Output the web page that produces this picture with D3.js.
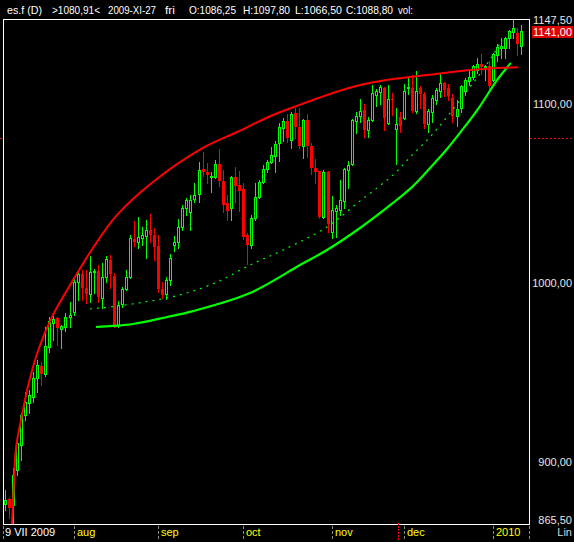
<!DOCTYPE html>
<html>
<head>
<meta charset="utf-8">
<script src="https://cdn.jsdelivr.net/npm/d3@7"></script>
<style>
  html, body { margin: 0; padding: 0; background: #000; overflow: hidden; }
  svg { display: block; }
  text { font-family: "Liberation Sans", Arial, sans-serif; }
</style>
</head>
<body>
<svg id="chart" width="574" height="542"></svg>
<script>
// Daily ES futures candles, 9 Jul 2009 – mid Jan 2010
const opens = [876.5,879.5,876.0,895.6,909.6,926.4,932.9,936.6,946.8,953.7,949.3,964.1,977.5,980.4,974.2,975.3,981.3,984.1,1000.8,1005.1,
  997.1,993.7,1006.2,1006.8,991.9,1003.6,1012.9,1004.0,976.6,988.2,996.7,1003.6,1024.6,1023.2,1025.0,1026.5,1029.7,1026.9,1020.7,996.7,
  993.7,1001.7,1021.5,1022.8,1031.3,1041.8,1039.9,1046.8,1049.6,1063.7,1062.1,1059.4,1059.4,1066.5,1057.2,1044.6,1041.8,1059.1,1054.8,1052.6,
  1026.9,1021.3,1036.2,1048.3,1056.7,1063.5,1067.8,1071.2,1078.1,1086.8,1090.5,1079.9,1095.2,1087.4,1076.8,1090.9,1076.6,1064.1,1062.6,1037.1,
  1062.2,1028.7,1040.5,1040.8,1046.0,1063.2,1066.7,1090.5,1093.5,1096.7,1085.5,1091.1,1105.1,1106.9,1108.8,1089.2,1102.8,1086.25,1092.9,1092.4,
  1108.8,1108.8,1096.1,1108.8,1105.6,1088.9,1095.7,1102.3,1107.3,1111.6,1108.8,1103.2,1093.5,1097.6,1107.5,1112.9,1114.9,1119.0,1122.4,1120.9,
  1121.4,1113.4,1127.4,1131.1,1131.5,1136.7,1140.4,1139.9,1132.6];
const highs = [884.5,880.2,896.5,913.3,927.3,939.4,940.3,950.6,957.1,956.1,975.7,981.3,983.1,981.3,976.6,983.1,989.6,1002.7,1006.4,1007.3,
  1007.3,1015.3,1007.9,1010.1,1011.1,1015.3,1015.7,1005.5,990.0,998.0,1007.3,1026.9,1034.7,1037.1,1031.5,1035.3,1038.4,1030.6,1026.9,1000.8,
  1003.6,1016.1,1026.3,1035.8,1043.6,1047.7,1049.2,1055.7,1067.8,1073.4,1067.3,1062.2,1068.8,1074.9,1063.2,1049.2,1060.0,1064.7,1062.8,1055.7,
  1027.8,1038.0,1055.7,1057.6,1066.0,1068.8,1076.2,1079.4,1089.2,1092.4,1094.3,1095.7,1098.0,1097.6,1091.7,1094.4,1078.1,1069.3,1062.8,1063.2,
  1062.8,1048.6,1043.6,1057.6,1064.1,1068.2,1091.7,1095.7,1102.8,1100.0,1092.9,1110.6,1108.4,1110.6,1109.7,1110.6,1106.0,1097.8,1095.7,1111.0,
  1114.7,1116.2,1118.5,1110.3,1106.9,1097.2,1105.1,1108.8,1117.2,1112.5,1111.2,1105.4,1102.3,1110.6,1114.4,1118.5,1121.8,1125.5,1127.8,1121.8,
  1124.0,1128.3,1133.3,1136.7,1137.6,1141.4,1147.5,1142.7,1144.1];
const lows = [873.3,868.7,865.5,892.9,901.2,923.6,927.3,933.8,939.4,943.1,948.3,961.7,968.2,965.5,963.9,973.3,975.7,982.2,990.6,990.6,
  989.1,989.6,994.3,989.6,985.9,1000.8,997.1,975.7,975.7,986.9,996.2,1002.7,1020.9,1019.4,1021.3,1014.2,1023.2,1012.9,995.2,991.5,
  991.0,999.0,1017.9,1019.4,1029.7,1038.0,1029.7,1045.5,1045.1,1060.0,1055.7,1051.1,1058.5,1054.4,1039.9,1035.3,1035.3,1045.5,1040.5,1024.6,
  1010.5,1019.4,1035.3,1047.3,1055.7,1062.2,1066.9,1062.2,1068.4,1079.4,1079.0,1075.6,1081.2,1075.3,1070.1,1070.6,1060.8,1055.7,1036.6,1036.6,
  1028.7,1025.0,1025.9,1038.0,1041.8,1052.9,1066.0,1083.6,1090.2,1081.8,1081.8,1090.5,1099.1,1100.0,1085.5,1088.7,1093.9,1066.5,1084.2,1091.7,
  1105.4,1095.7,1094.8,1097.6,1086.4,1084.6,1090.2,1099.8,1104.1,1104.5,1102.3,1090.2,1087.9,1095.7,1105.1,1110.6,1114.0,1117.2,1116.6,1113.4,
  1109.2,1113.1,1124.0,1125.5,1125.9,1131.1,1137.1,1127.4,1127.8];
const closes = [878.9,874.2,893.0,910.5,926.4,933.8,937.5,946.8,954.3,949.3,964.9,978.9,980.0,974.8,975.9,980.9,982.2,1000.8,1004.9,997.1,
  994.1,1006.0,1006.8,992.4,1003.6,1013.3,1005.1,976.6,987.8,996.7,1003.6,1025.0,1022.8,1025.6,1026.9,1029.7,1026.9,1020.4,996.7,993.4,
  1001.7,1013.8,1022.8,1031.3,1042.1,1046.4,1046.4,1049.2,1063.2,1062.2,1060.4,1059.8,1066.5,1057.2,1043.6,1040.5,1059.1,1054.4,1051.6,1025.9,
  1021.3,1036.2,1048.3,1056.3,1063.7,1067.8,1071.5,1077.5,1087.4,1090.5,1081.2,1094.4,1087.4,1076.6,1090.9,1076.6,1064.5,1062.2,1037.1,1062.2,
  1032.8,1040.8,1041.8,1046.4,1063.7,1066.0,1091.1,1093.3,1095.9,1085.5,1091.1,1106.4,1107.3,1109.7,1092.0,1102.8,1102.3,1088.8,1087.9,1107.3,
  1109.3,1096.1,1107.3,1105.8,1088.9,1096.3,1103.2,1107.8,1111.9,1107.8,1104.5,1093.5,1097.2,1110.1,1113.2,1115.1,1121.4,1122.4,1120.7,1121.1,
  1110.3,1127.8,1132.0,1132.6,1136.7,1140.8,1142.3,1133.3,1141.0];

// Channel curves as [candle index, price]
const upperCurve = [[1.5,858.0],[1.74,866.1],[2.23,888.9],[2.73,908.0],[4.22,926.4],[5.96,944.8],[8.44,963.8],[11.9,982.2],[16.6,1000.6],
  [21.8,1019.6],[27.8,1038.1],[36.7,1056.5],[49.1,1075.5],[57.6,1084.4],[65.8,1093.2],[71.5,1098.2],[79.9,1105.1],[88.1,1110.6],
  [96.3,1114.0],[104.7,1116.2],[112.9,1118.5],[121.1,1120.0],[127.3,1120.5]];
const lowerCurve = [[22.58,975.5],[26.79,976.1],[31.75,977.2],[40.19,981.1],[46.64,984.4],[60.78,994.5],[73.18,1010.1],[79.88,1018.5],
  [88.07,1030.8],[96.25,1044.8],[101.22,1054.2],[105.43,1064.3],[109.65,1074.9],[113.62,1086.1],[117.84,1098.9],[122.05,1113.4],[125.5,1123.0]];
const midCurve = [[21.09,985.6],[27.78,987.2],[35.97,990.0],[44.16,993.9],[52.59,1000.6],[60.78,1010.1],[68.97,1018.5],[79.88,1031.4],
  [88.07,1045.9],[96.25,1060.4],[101.22,1072.1],[105.43,1081.6],[109.65,1092.8],[113.62,1104.5],[117.09,1114.6],[121.06,1127.4],[123.29,1135.8]];

const firstDateLabel = "9 VII 2009";
const monthLabels = ["aug", "sep", "oct", "nov", "dec", "2010"];
const monthStartIndex = [17, 38, 59, 81, 99, 121];
const priceTicks = [1100, 1000, 900];
const priceDomain = [865.5, 1147.5];
const cursorIndex = 97;
const cursorPrice = 1080.91;
const symbolName = "es.f (D)";
const cursorDate = "2009-XI-27";
const cursorWeekday = "fri";

const svg = d3.select("#chart");
const W = 574, H = 542;
const fmt = v => d3.format(".2f")(v).replace(".", ",");

svg.append("rect").attr("width", W).attr("height", H).attr("fill", "#000");

const x = d3.scaleLinear().domain([0, closes.length - 1]).range([5, 521]);
const y = d3.scaleLinear().domain(priceDomain).range([524, 19]);

svg.append("defs").append("clipPath").attr("id", "plotClip")
  .append("rect").attr("x", 4).attr("y", 20).attr("width", 525).attr("height", 504);

const plot = svg.append("g").attr("clip-path", "url(#plotClip)");

// candles
const candles = d3.range(closes.length).map(i => {
  const o = opens[i], c = closes[i];
  const cx = Math.round(x(i));
  const yt = Math.round(y(Math.max(o, c)));
  const yb = Math.round(y(Math.min(o, c)));
  return { i, cx, up: c >= o, yt, yb, yh: Math.round(y(highs[i])), yl: Math.round(y(lows[i])) };
});
const green = "#00ff00", red = "#ff0000";
const cg = plot.append("g").attr("shape-rendering", "crispEdges");
cg.selectAll("line.wick").data(candles).join("line").attr("class", "wick")
  .attr("x1", d => d.cx + 0.5).attr("x2", d => d.cx + 0.5)
  .attr("y1", d => d.yh).attr("y2", d => d.yl + 1)
  .attr("stroke", d => d.up ? green : red).attr("stroke-width", 1);
cg.selectAll("rect.body").data(candles).join("rect").attr("class", "body")
  .attr("x", d => d.up ? d.cx - 0.5 : d.cx - 1)
  .attr("y", d => d.up ? d.yt + 0.5 : d.yt)
  .attr("width", d => d.up ? 2 : 3)
  .attr("height", d => d.up ? Math.max(d.yb - d.yt, 0) : Math.max(d.yb - d.yt, 1))
  .attr("fill", d => d.up ? "#000" : red)
  .attr("stroke", d => d.up ? green : "none")
  .attr("stroke-width", 1);

// channel curves
const curve = d3.line().x(d => x(d[0])).y(d => y(d[1])).curve(d3.curveCatmullRom.alpha(0.5));
plot.append("path").datum(midCurve).attr("d", curve)
  .attr("fill", "none").attr("stroke", green).attr("stroke-width", 1.2).attr("stroke-dasharray", "2,5");
plot.append("path").datum(lowerCurve).attr("d", curve)
  .attr("fill", "none").attr("stroke", green).attr("stroke-width", 2.2);
plot.append("path").datum(upperCurve).attr("d", curve)
  .attr("fill", "none").attr("stroke", red).attr("stroke-width", 2);

// frame
svg.append("rect").attr("x", 3.5).attr("y", 19.5).attr("width", 526).attr("height", 505)
  .attr("fill", "none").attr("stroke", "#fff").attr("stroke-width", 1).attr("shape-rendering", "crispEdges");

// header: [text, left, width]
const hdr = [
  [symbolName, 7, 35], [">" + fmt(cursorPrice) + "<", 52, 48], [cursorDate, 108, 48], [cursorWeekday, 165, 10],
  ["O:" + fmt(opens[cursorIndex]), 189, 47], ["H:" + fmt(highs[cursorIndex]), 243, 47],
  ["L:" + fmt(lows[cursorIndex]), 295, 47], ["C:" + fmt(closes[cursorIndex]), 346, 47], ["vol:", 398, 15]
];
svg.append("g").selectAll("text").data(hdr).join("text")
  .attr("x", d => d[1]).attr("y", 13.5).attr("fill", "#fff").attr("font-size", 11.5)
  .attr("textLength", d => d[2]).attr("lengthAdjust", "spacingAndGlyphs").text(d => d[0]);

// price axis
const axisLabels = [
  { v: priceDomain[1], yy: Math.max(y(priceDomain[1]), 20.5) },
  ...priceTicks.map(v => ({ v, yy: y(v) })),
  { v: priceDomain[0], yy: Math.min(y(priceDomain[0]), 520) }
];
svg.append("g").selectAll("text").data(axisLabels).join("text")
  .attr("x", 572).attr("y", d => d.yy).attr("dy", "0.36em").attr("text-anchor", "end")
  .attr("fill", "#e6e6e6").attr("font-size", 11).text(d => fmt(d.v));

const lastClose = closes[closes.length - 1];
const ly = Math.round(y(lastClose));
svg.append("rect").attr("x", 532).attr("y", ly - 5).attr("width", 41).attr("height", 12).attr("fill", "#dd0000");
svg.append("text").attr("x", 572).attr("y", y(lastClose)).attr("dy", "0.45em").attr("text-anchor", "end")
  .attr("fill", "#fff").attr("font-size", 11).text(fmt(lastClose));

svg.append("text").attr("x", 572).attr("y", 536).attr("text-anchor", "end")
  .attr("fill", "#d8d8d8").attr("font-size", 11).text("Lin");

// cursor price marker
const cy = Math.round(y(cursorPrice)) + 0.5;
[[530, 574], [0, 3]].forEach(([a, b]) => {
  svg.append("line").attr("x1", a).attr("x2", b).attr("y1", cy).attr("y2", cy)
    .attr("stroke", red).attr("stroke-dasharray", "2,2").attr("shape-rendering", "crispEdges");
});

// time axis
const tickXs = [3.5, ...monthStartIndex.map(i => Math.round(x(i)) + 0.5), 529.5];
svg.append("g").selectAll("line").data(tickXs).join("line")
  .attr("x1", d => d).attr("x2", d => d).attr("y1", 526).attr("y2", 541)
  .attr("stroke", "#8c8c8c").attr("stroke-dasharray", "3,2").attr("shape-rendering", "crispEdges");

const cxCursor = Math.round(x(cursorIndex)) + 2.5;
svg.append("line").attr("x1", cxCursor).attr("x2", cxCursor).attr("y1", 523).attr("y2", 541)
  .attr("stroke", red).attr("stroke-dasharray", "2,1").attr("shape-rendering", "crispEdges");

svg.append("text").attr("x", 5).attr("y", 536).attr("fill", "#fff").attr("font-size", 11).text(firstDateLabel);
svg.append("g").selectAll("text").data(monthLabels).join("text")
  .attr("x", (d, k) => Math.round(x(monthStartIndex[k])) + 3).attr("y", 536)
  .attr("fill", "#ffff00").attr("font-size", 11).text(d => d);
</script>
</body>
</html>
